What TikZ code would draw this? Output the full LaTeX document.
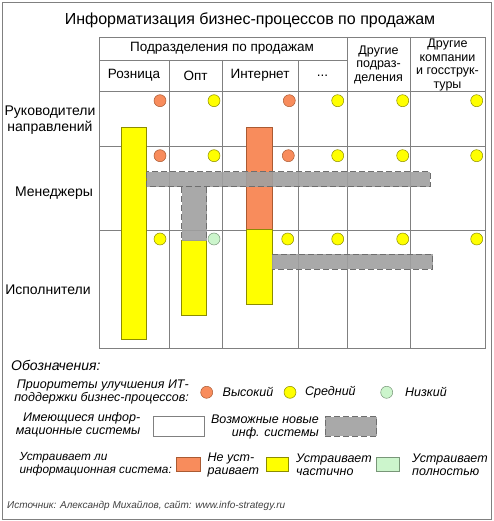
\documentclass[tikz,border=0pt]{standalone}
\usepackage{fontspec}
\setmainfont{Liberation Sans}
\definecolor{gridc}{RGB}{128,128,128}
\definecolor{orangeC}{RGB}{248,140,92}
\definecolor{orangeD}{RGB}{170,90,50}
\definecolor{yellowC}{RGB}{255,255,0}
\definecolor{yellowD}{RGB}{140,140,0}
\definecolor{greenC}{RGB}{204,245,204}
\definecolor{greenD}{RGB}{120,150,120}
\definecolor{grayC}{RGB}{160,160,160}
\definecolor{grayD}{RGB}{110,110,110}
\begin{document}
\begin{tikzpicture}[x=1pt,y=-1pt,
  gridline/.style={draw=gridc,line width=0.9pt},
  dot/.style={circle,minimum size=12pt,inner sep=0pt,line width=0.5pt},
  hi/.style={dot,fill=orangeC,draw=orangeD},
  mid/.style={dot,fill=yellowC,draw=yellowD},
  lo/.style={dot,fill=greenC,draw=greenD},
  ybar/.style={fill=yellowC,draw=yellowD,line width=0.5pt},
  obar/.style={fill=orangeC,draw=orangeD,line width=0.5pt},
  gbarfill/.style={fill=grayC,fill opacity=0.9},
  gbarline/.style={draw=grayD,dash pattern=on 6pt off 3pt,line width=1pt},
  hdr/.style={inner sep=0pt,align=center,font=\fontsize{13.5}{13.5}\selectfont},
  rowlab/.style={inner sep=0pt,align=center,font=\fontsize{14}{16}\selectfont},
  legtxt/.style={inner sep=0pt,font=\fontsize{12.5}{13}\selectfont\itshape}
]
\useasboundingbox (0,0) rectangle (493,521);
\draw[draw=gridc,line width=0.9pt] (2,2) rectangle (491,519);

\node[inner sep=0pt] (title) at (250,20) {\fontsize{16}{19}\selectfont Информатизация бизнес-процессов по продажам};

% table grid
\draw[gridline] (99,37) rectangle (485.5,348);
\draw[gridline] (99,60) -- (347,60);
\draw[gridline] (99,91) -- (485.5,91);
\draw[gridline] (99,146.7) -- (485.5,146.7);
\draw[gridline] (99,230) -- (485.5,230);
\foreach \x in {169,222,298} \draw[gridline] (\x,60) -- (\x,348);
\foreach \x in {347,410} \draw[gridline] (\x,37) -- (\x,348);

% headers
\node[hdr] (hsales) at (222,48.5) {Подразделения по продажам};
\node[hdr] (hretail) at (134,75.5) {Розница};
\node[hdr] (hopt) at (195.5,75.5) {Опт};
\node[hdr] (hnet) at (260,75.5) {Интернет};
\node[hdr] (hdots) at (322.5,75.5) {...};
\node[hdr,font=\fontsize{12.5}{13.5}\selectfont] (hother) at (378.5,64.5) {Другие\\подраз-\\деления};
\node[hdr,font=\fontsize{12.5}{13.5}\selectfont] (hcomp) at (447.5,65) {Другие\\компании\\и госструк-\\туры};

% row labels
\node[rowlab] (r1) at (50,120) {Руководители\\направлений};
\node[rowlab] (r2) at (54,193) {Менеджеры};
\node[rowlab] (r3) at (48,290) {Исполнители};

% bars
\path[ybar] (121.7,127.3) rectangle (146.7,339.3);
\path[obar] (246,127.7) rectangle (272,229.3);
\path[ybar] (246,229.3) rectangle (272,304.3);
\path[ybar] (181.7,240.7) rectangle (206.7,315.7);
% new systems (gray)
\path[gbarfill] (146.7,171.7) rectangle (430,186.7);
\path[gbarline] (146.7,171.7) rectangle (430,186.7);
\path[gbarfill] (181.7,187.2) rectangle (206.7,240.7);
\path[gbarline] (181.7,187.2) -- (181.7,240.7) (206.7,187.2) -- (206.7,240.7);
\path[gbarfill] (272,254.3) rectangle (432.7,269);
\path[gbarline] (272,254.3) -- (432.7,254.3) -- (432.7,269) -- (272,269);

% priority dots
\node[hi]  (d11) at (160,100.7) {};
\node[mid] (d12) at (214,100.7) {};
\node[hi]  (d13) at (289.3,100.7) {};
\node[mid] (d14) at (337.7,100.7) {};
\node[mid] (d15) at (402.7,100.7) {};
\node[mid] (d16) at (476.7,100.7) {};
\node[hi]  (d21) at (160,155.7) {};
\node[mid] (d22) at (214,155.7) {};
\node[hi]  (d23) at (288.3,155.7) {};
\node[mid] (d24) at (337.7,155.7) {};
\node[mid] (d25) at (402.7,155.7) {};
\node[mid] (d26) at (476.7,155.7) {};
\node[mid] (d31) at (160,239) {};
\node[lo]  (d32) at (214,239) {};
\node[mid] (d33) at (287.7,239) {};
\node[mid] (d34) at (337.7,239) {};
\node[mid] (d35) at (402.7,239) {};
\node[mid] (d36) at (476.7,239) {};

% legend
\node[legtxt,anchor=west,font=\fontsize{14}{15}\selectfont\itshape] (leg) at (11,365) {Обозначения:};
\node[legtxt,anchor=east,align=right] (prio) at (189,391.5) {Приоритеты улучшения ИТ-\\поддержки бизнес-процессов:};
\node[hi]  (lhi) at (206.7,392.3) {};
\node[legtxt,anchor=west] (lhit) at (222.5,392) {Высокий};
\node[mid] (lmid) at (290,392.3) {};
\node[legtxt,anchor=west] (lmidt) at (305,392) {Средний};
\node[lo]  (llo) at (386.7,392.3) {};
\node[legtxt,anchor=west] (llot) at (405,392) {Низкий};

\node[legtxt,anchor=east,align=right] (exist) at (140.5,424.5) {Имеющиеся инфор-\\мационные системы};
\node[draw=gridc,line width=0.8pt,minimum width=50.7pt,minimum height=20pt,inner sep=0pt] (lexist) at (178.6,426.7) {};
\node[legtxt,anchor=east,align=right] (newsys) at (319,426.5) {Возможные новые\\инф. системы};
\path[gbarfill] (325,416.7) rectangle (376.7,436);
\node[gbarline,minimum width=51.7pt,minimum height=19.3pt,inner sep=0pt] (lnew) at (350.85,426.35) {};

\node[legtxt,anchor=east,align=left,font=\fontsize{11.8}{13}\selectfont\itshape] (fit) at (172,464.5) {Устраивает ли\\информационная система:};
\node[obar,minimum width=24pt,minimum height=14.4pt,inner sep=0pt] (lno) at (188,464.5) {};
\node[legtxt,anchor=west,align=left] (lnot) at (207.5,464.5) {Не уст-\\раивает};
\node[ybar,minimum width=21.6pt,minimum height=14.4pt,inner sep=0pt] (lpart) at (277.5,464.5) {};
\node[legtxt,anchor=west,align=left] (lpartt) at (296,464.5) {Устраивает\\частично};
\node[fill=greenC,draw=greenD,line width=0.5pt,minimum width=22.6pt,minimum height=14.4pt,inner sep=0pt] (lfull) at (388,464.5) {};
\node[legtxt,anchor=west,align=left] (lfullt) at (412,464.5) {Устраивает\\полностью};

\node[inner sep=0pt,anchor=west,text=black!75,font=\fontsize{10}{12}\selectfont\itshape] (src) at (7,505.7) {Источник: Александр Михайлов, сайт: www.info-strategy.ru};
\end{tikzpicture}
\end{document}
